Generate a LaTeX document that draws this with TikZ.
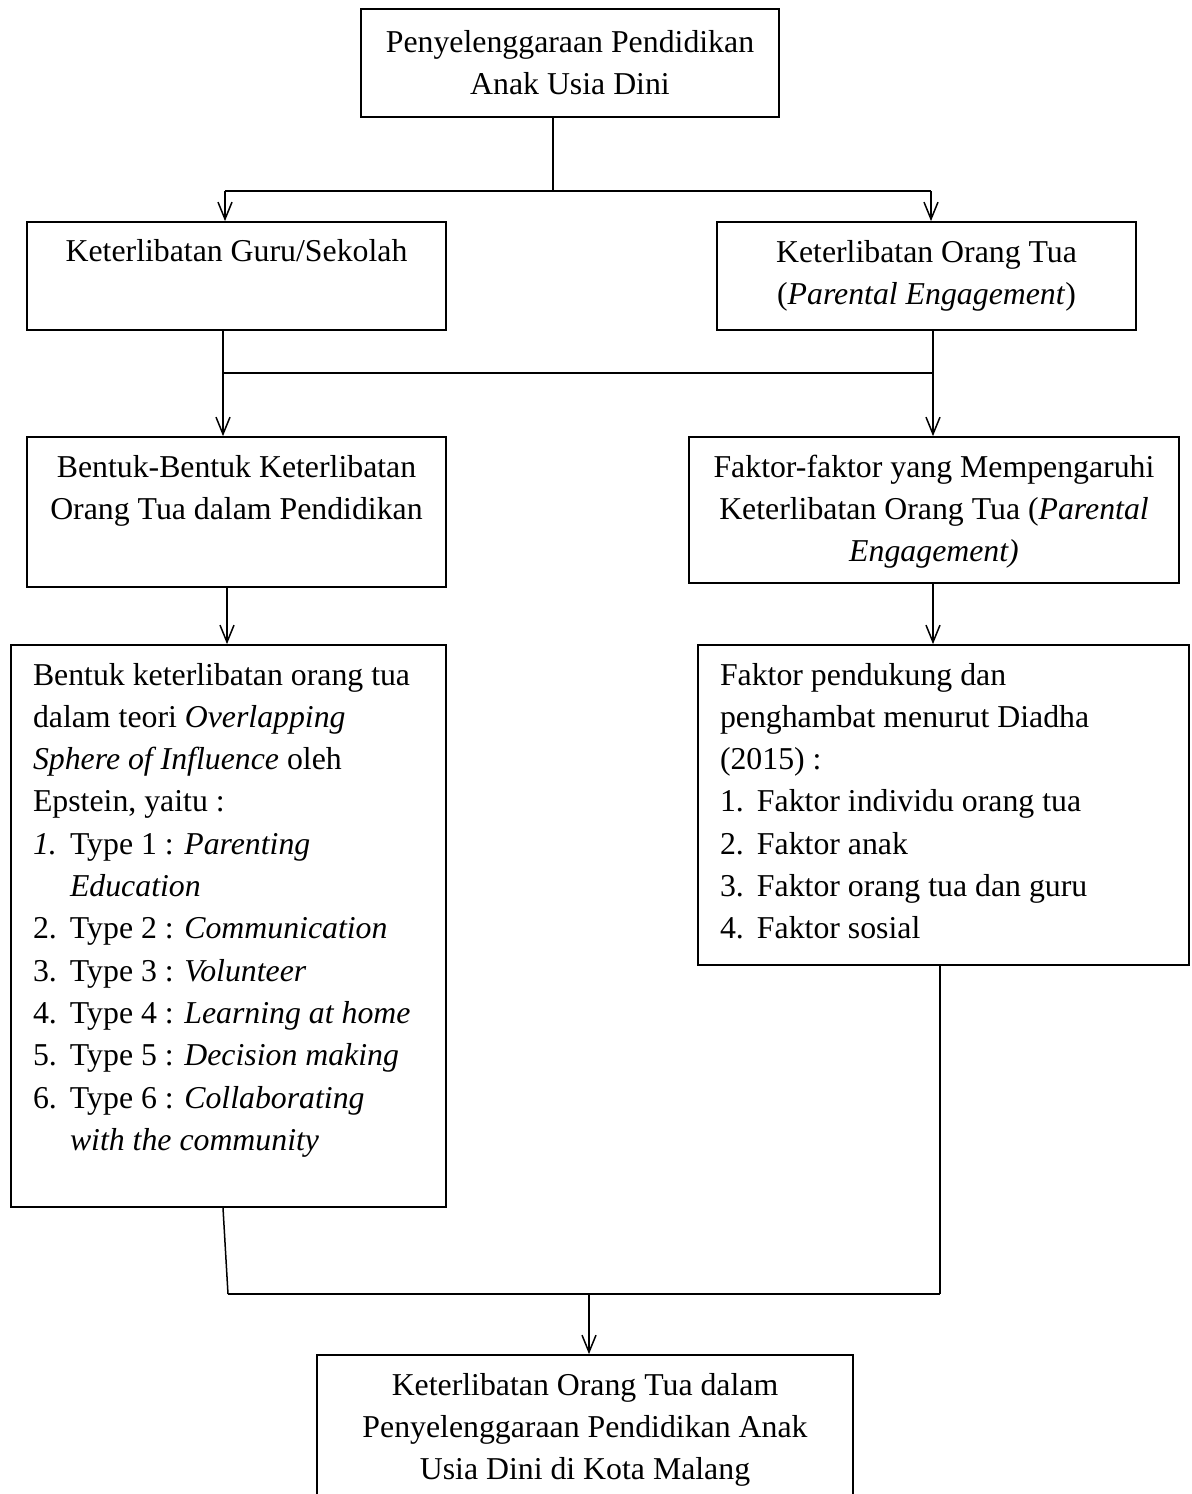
\documentclass[tikz,border=0pt]{standalone}
\usepackage{fontspec}
\setmainfont{Liberation Serif}
\usepackage{tikz}
\usetikzlibrary{arrows.meta,positioning,calc}

% isi kotak: tinggi, lebar teks, jarak atas, teks
\newcommand{\isitengah}[4]{\parbox[c][#1][t]{#2}{\vspace*{#3}\centering\strut #4}}
\newcommand{\isikiri}[4]{\parbox[c][#1][t]{#2}{\vspace*{#3}\raggedright\strut #4}}
\newcommand{\butir}[2]{\par\noindent\hangindent=18.5pt\hangafter=1\makebox[18.5pt][l]{#1}#2}

\begin{document}
\begin{tikzpicture}[x=0.5pt, y=-0.5pt, >=Latex,
  kotak/.style={draw, line width=0.9pt, inner sep=0pt, font=\fontsize{15.9}{21.15}\selectfont},
  garis/.style={line width=0.75pt},
  panah/.style={line width=0.75pt, -{Straight Barb[length=8.5pt, width=7pt]}}]
  \clip (0,0) rectangle (1191,1494);

  % kotak judul
  \node[kotak, minimum width=209pt] (atas) at (570,63)
    {\isitengah{54pt}{205pt}{6.7pt}{Penyelenggaraan Pendidikan\\Anak Usia Dini}};

  % keterlibatan guru dan orang tua
  \node[kotak, minimum width=209.5pt] (guru) at (236.5,276)
    {\isitengah{54pt}{205pt}{4.7pt}{Keterlibatan Guru/Sekolah}};
  \node[kotak, minimum width=209.5pt] (ortu) at (926.5,276)
    {\isitengah{54pt}{205pt}{5.2pt}{Keterlibatan Orang Tua\\(\textit{Parental Engagement})}};

  % bentuk dan faktor
  \node[kotak, minimum width=209.5pt] (bentuk) at (236.5,512)
    {\isitengah{75pt}{205pt}{5.2pt}{Bentuk-Bentuk Keterlibatan\\Orang Tua dalam Pendidikan}};
  \node[kotak, minimum width=245pt] (faktor) at (934,510)
    {\isitengah{73pt}{240pt}{5.2pt}{Faktor-faktor yang Mempengaruhi\\Keterlibatan Orang Tua (\textit{Parental}\\\textit{Engagement)}}};

  % rincian teori Epstein
  \node[kotak, minimum width=217.5pt] (teori) at (228.5,926)
    {\isikiri{281pt}{195.5pt}{5.2pt}{Bentuk keterlibatan orang tua\\
      dalam teori \textit{Overlapping}\\
      \textit{Sphere of Influence} oleh\\
      Epstein, yaitu :
      \butir{\textit{1.}}{Type 1 : \textit{Parenting}\newline\textit{Education}}
      \butir{2.}{Type 2 : \textit{Communication}}
      \butir{3.}{Type 3 : \textit{Volunteer}}
      \butir{4.}{Type 4 : \textit{Learning at home}}
      \butir{5.}{Type 5 : \textit{Decision making}}
      \butir{6.}{Type 6 : \textit{Collaborating}\newline\textit{with the community}}}};

  % rincian faktor
  \node[kotak, minimum width=245.5pt] (pendukung) at (943.5,805)
    {\isikiri{160pt}{223.5pt}{5.2pt}{Faktor pendukung dan\\
      penghambat menurut Diadha\\
      (2015) :
      \butir{1.}{Faktor individu orang tua}
      \butir{2.}{Faktor anak}
      \butir{3.}{Faktor orang tua dan guru}
      \butir{4.}{Faktor sosial}}};

  % kotak hasil
  \node[kotak, minimum width=268pt] (hasil) at (585,1432.5)
    {\isitengah{77.5pt}{260pt}{5.2pt}{Keterlibatan Orang Tua dalam\\Penyelenggaraan Pendidikan Anak\\Usia Dini di Kota Malang}};

  % cabang pertama
  \coordinate (cabang) at (553,191);
  \coordinate (kiri1) at (225,191);
  \coordinate (kanan1) at (931,191);
  \draw[garis] (atas.south -| cabang) -- (cabang);
  \draw[garis] (kiri1) -- (kanan1);
  \draw[panah] (kiri1) -- (kiri1 |- guru.north);
  \draw[panah] (kanan1) -- (kanan1 |- ortu.north);

  % cabang kedua
  \coordinate (kiri2) at (223,373);
  \coordinate (kanan2) at (933,373);
  \draw[panah] (guru.south -| kiri2) -- (bentuk.north -| kiri2);
  \draw[panah] (ortu.south -| kanan2) -- (faktor.north -| kanan2);
  \draw[garis] (kiri2) -- (kanan2);

  % ke rincian
  \draw[panah] (bentuk.south -| 227,0) -- (teori.north -| 227,0);
  \draw[panah] (faktor.south -| 933,0) -- (pendukung.north -| 933,0);

  % gabungan ke hasil
  \coordinate (kiri3) at (228,1294);
  \coordinate (kanan3) at (940,1294);
  \coordinate (tengah3) at (589,1294);
  \draw[garis] (teori.south -| 223,0) -- (kiri3);
  \draw[garis] (pendukung.south -| kanan3) -- (kanan3);
  \draw[garis] (kiri3) -- (kanan3);
  \draw[panah] (tengah3) -- (tengah3 |- hasil.north);
\end{tikzpicture}
\end{document}
